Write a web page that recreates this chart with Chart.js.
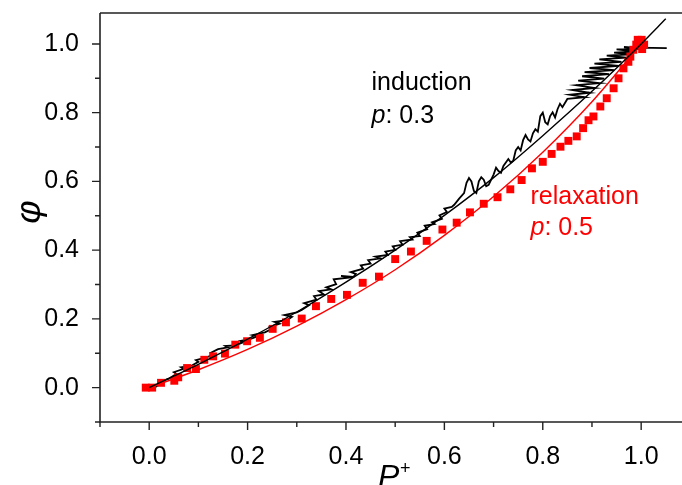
<!DOCTYPE html>
<html>
<head>
<meta charset="utf-8">
<script src="https://cdn.jsdelivr.net/npm/chart.js@4.4.0/dist/chart.umd.min.js"></script>
<style>
  html, body { margin: 0; padding: 0; background: #fff; }
  #wrap { width: 682px; height: 485px; }
</style>
</head>
<body>
<div id="wrap"><canvas id="chart"></canvas></div>
<script>
// induction: measured trace (noisy) and its fit
const traceP = [0.010,0.025,0.020,0.040,0.055,0.050,0.070,0.065,0.085,0.100,0.095,0.115,0.130,0.125,0.140,0.160,0.155,0.175,0.190,0.185,
  0.205,0.220,0.210,0.235,0.250,0.245,0.265,0.255,0.280,0.290,0.275,0.300,0.310,0.325,0.315,0.340,0.335,0.355,0.345,0.370,
  0.360,0.380,0.375,0.405,0.390,0.415,0.420,0.410,0.435,0.430,0.450,0.445,0.470,0.460,0.485,0.480,0.500,0.495,0.515,0.510,
  0.535,0.530,0.550,0.545,0.565,0.560,0.580,0.575,0.595,0.590,0.605,0.600,0.615,0.620,0.630,0.640,0.645,0.650,0.655,0.660,
  0.665,0.670,0.675,0.680,0.685,0.690,0.700,0.705,0.710,0.715,0.720,0.730,0.735,0.740,0.745,0.750,0.755,0.760,0.765,0.770,
  0.775,0.780,0.785,0.790,0.795,0.800,0.805,0.810,0.815,0.820,0.825,0.830,0.835,0.840,
  0.850,0.885,0.855,0.895,0.860,0.905,0.868,0.915,0.872,0.925,0.880,0.935,0.885,0.945,0.895,0.955,0.905,0.960,0.915,0.970,
  0.930,0.980,0.945,0.990,0.950,1.010,0.965,1.052];
const tracePhi = [0.000,0.012,0.016,0.026,0.040,0.045,0.055,0.059,0.063,0.075,0.080,0.087,0.096,0.101,0.112,0.117,0.121,0.123,0.131,0.136,
  0.141,0.149,0.153,0.161,0.171,0.176,0.186,0.191,0.196,0.206,0.211,0.219,0.226,0.240,0.246,0.256,0.266,0.271,0.281,0.286,
  0.292,0.301,0.315,0.320,0.325,0.322,0.331,0.336,0.346,0.356,0.361,0.371,0.376,0.381,0.386,0.396,0.401,0.411,0.416,0.426,
  0.431,0.438,0.441,0.451,0.461,0.471,0.476,0.481,0.491,0.501,0.511,0.521,0.526,0.532,0.550,0.566,0.596,0.610,0.600,0.572,
  0.566,0.600,0.612,0.605,0.586,0.590,0.620,0.640,0.630,0.625,0.645,0.665,0.655,0.660,0.690,0.700,0.690,0.720,0.735,0.722,
  0.716,0.740,0.752,0.745,0.790,0.800,0.772,0.766,0.790,0.801,0.786,0.810,0.826,0.816,
  0.840,0.845,0.852,0.858,0.866,0.872,0.880,0.886,0.893,0.899,0.906,0.912,0.918,0.924,0.930,0.936,0.943,0.948,0.955,0.960,
  0.966,0.970,0.975,0.978,0.984,0.986,0.990,0.988];
const inductionFitP = [0, 0.1, 0.2, 0.3, 0.4, 0.5, 0.6, 0.7, 0.8, 0.9, 1.0, 1.05];
const inductionFitPhi = [0, 0.068, 0.141, 0.220, 0.307, 0.400, 0.501, 0.611, 0.733, 0.862, 1.0, 1.073];

// relaxation: measured points and fit
const relaxP = [-0.007,0.006,0.024,0.051,0.059,0.077,0.095,0.112,0.130,0.154,0.175,0.199,0.225,0.251,0.278,0.310,0.339,0.370,0.402,0.434,
  0.467,0.500,0.532,0.564,0.596,0.625,0.652,0.680,0.708,0.734,0.757,0.778,0.800,0.818,0.836,0.852,0.869,0.882,0.893,0.903,
  0.917,0.930,0.944,0.954,0.964,0.974,0.978,0.984,0.990,0.993,1.001,1.006,1.002];
const relaxPhi = [0,0,0.014,0.020,0.030,0.057,0.054,0.081,0.091,0.099,0.125,0.135,0.145,0.171,0.190,0.201,0.237,0.258,0.270,0.305,
  0.323,0.374,0.396,0.427,0.460,0.480,0.510,0.535,0.554,0.577,0.604,0.638,0.657,0.680,0.701,0.718,0.731,0.755,0.778,0.789,
  0.818,0.842,0.871,0.900,0.929,0.948,0.963,0.983,0.998,1.012,1.012,0.998,0.985];
const relaxFitP = [0, 0.1, 0.2, 0.3, 0.4, 0.5, 0.6, 0.7, 0.8, 0.9, 1.0];
const relaxFitPhi = [0, 0.052, 0.111, 0.179, 0.256, 0.343, 0.443, 0.556, 0.685, 0.832, 1.0];

const xMin = -0.1, xMax = 1.083, yMin = -0.1, yMax = 1.09;

const pts = (xs, ys) => xs.map((x, i) => ({ x: x, y: ys[i] }));
const FONT = '"Liberation Sans", Arial, sans-serif';

const frame = {
  id: 'frame',
  afterDraw(chart) {
    const ctx = chart.ctx;
    const a = chart.chartArea;
    const xs = chart.scales.x, ys = chart.scales.y;
    ctx.save();
    ctx.strokeStyle = '#222';
    ctx.lineWidth = 1.6;
    ctx.beginPath();
    ctx.moveTo(a.left, a.top); ctx.lineTo(a.right, a.top);
    ctx.moveTo(a.left, a.top); ctx.lineTo(a.left, a.bottom);
    ctx.lineTo(a.right, a.bottom);
    ctx.stroke();
    ctx.lineWidth = 1.4;
    ctx.beginPath();
    xs.ticks.forEach(t => {
      const px = xs.getPixelForValue(t.value);
      const major = Math.round(t.value * 10) % 2 === 0;
      ctx.moveTo(px, a.bottom); ctx.lineTo(px, a.bottom + (major ? 8 : 5));
    });
    ys.ticks.forEach(t => {
      const py = ys.getPixelForValue(t.value);
      const major = Math.round(t.value * 10) % 2 === 0;
      ctx.moveTo(a.left, py); ctx.lineTo(a.left - (major ? 8 : 5), py);
    });
    ctx.stroke();

    // annotations
    const tx = v => xs.getPixelForValue(v), ty = v => ys.getPixelForValue(v);
    const label = (x, y, color, parts) => {
      let cx = tx(x);
      parts.forEach(p => {
        ctx.font = (p.it ? 'italic ' : '') + '25px ' + FONT;
        ctx.fillStyle = color;
        ctx.textBaseline = 'alphabetic';
        ctx.fillText(p.t, cx, ty(y));
        cx += ctx.measureText(p.t).width;
      });
    };
    label(0.452, 0.866, '#000', [{ t: 'induction' }]);
    label(0.452, 0.770, '#000', [{ t: 'p', it: true }, { t: ': 0.3' }]);
    label(0.775, 0.534, '#ff0000', [{ t: 'relaxation' }]);
    label(0.775, 0.444, '#ff0000', [{ t: 'p', it: true }, { t: ': 0.5' }]);

    // axis titles
    ctx.fillStyle = '#000';
    ctx.font = 'italic 36px ' + FONT;
    ctx.save();
    ctx.translate(40, 212);
    ctx.rotate(-Math.PI / 2);
    ctx.textAlign = 'center';
    ctx.textBaseline = 'alphabetic';
    ctx.fillText('\u03C6', 0, 0);
    ctx.restore();
    ctx.textAlign = 'left';
    ctx.textBaseline = 'alphabetic';
    ctx.font = 'italic 32px ' + FONT;
    ctx.fillText('P', 378, 487);
    ctx.font = '18px ' + FONT;
    ctx.fillText('+', 400, 474);
    ctx.restore();
  }
};

const tickLabel = v => (v >= 0 && Math.round(v * 10) % 2 === 0) ? v.toFixed(1) : '';

new Chart(document.getElementById('chart'), {
  type: 'scatter',
  data: {
    datasets: [
      {
        label: 'induction fit',
        data: pts(inductionFitP, inductionFitPhi),
        showLine: true, borderColor: '#000', borderWidth: 1.4,
        pointRadius: 0, cubicInterpolationMode: 'monotone'
      },
      {
        label: 'relaxation',
        data: pts(relaxP, relaxPhi),
        pointStyle: 'rect', pointRadius: 5.6, borderWidth: 0,
        backgroundColor: '#ff0000', showLine: false
      },
      {
        label: 'relaxation fit',
        data: pts(relaxFitP, relaxFitPhi),
        showLine: true, borderColor: '#ff0000', borderWidth: 1.4,
        pointRadius: 0, cubicInterpolationMode: 'monotone'
      },
      {
        label: 'induction',
        data: pts(traceP, tracePhi),
        showLine: true, borderColor: '#000', borderWidth: 1.8,
        pointRadius: 0, tension: 0
      }
    ]
  },
  options: {
    responsive: true,
    maintainAspectRatio: false,
    animation: false,
    layout: { autoPadding: false, padding: { top: 13, right: 0, left: 0, bottom: 0 } },
    plugins: { legend: { display: false }, tooltip: { enabled: false } },
    scales: {
      x: {
        type: 'linear', min: xMin, max: xMax,
        grid: { display: false }, border: { display: false },
        afterFit: s => { s.height = 63; s.paddingLeft = 0; s.paddingRight = 0; },
        ticks: {
          stepSize: 0.1, includeBounds: false, autoSkip: false, maxRotation: 0,
          padding: 12, color: '#000', font: { family: FONT, size: 25 },
          callback: tickLabel
        }
      },
      y: {
        type: 'linear', min: yMin, max: yMax,
        grid: { display: false }, border: { display: false },
        afterFit: s => { s.width = 100; s.paddingTop = 0; s.paddingBottom = 0; },
        ticks: {
          stepSize: 0.1, includeBounds: false, autoSkip: false,
          padding: 13, color: '#000', font: { family: FONT, size: 25 },
          callback: tickLabel
        }
      }
    }
  },
  plugins: [frame]
});
</script>
</body>
</html>
